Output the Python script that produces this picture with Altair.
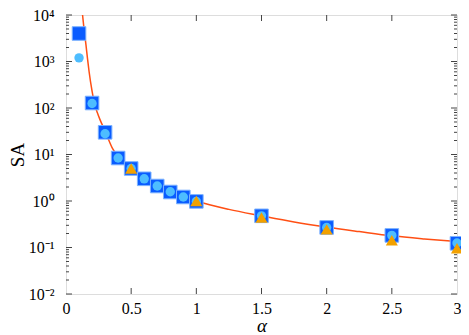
import altair as alt
import pandas as pd

# ---- data ----
sq_alpha = [0.1, 0.2, 0.3, 0.4, 0.5, 0.6, 0.7, 0.8, 0.9, 1.0, 1.5, 2.0, 2.5, 3.0]
sq_sa = [4000, 128, 30, 8.4, 5.0, 3.0, 2.1, 1.56, 1.22, 0.98, 0.48, 0.27, 0.182, 0.123]

ci_alpha = [0.1, 0.2, 0.3, 0.4, 0.5, 0.6, 0.7, 0.8, 0.9, 1.0, 1.5, 2.0, 2.5, 3.0]
ci_sa = [1200, 125, 28, 8.4, 5.0, 3.0, 2.1, 1.58, 1.22, 0.98, 0.48, 0.27, 0.182, 0.125]

tr_alpha = [0.5, 1.0, 1.5, 2.0, 2.5, 3.0]
tr_sa = [5.0, 1.0, 0.44, 0.245, 0.143, 0.096]

line_alpha = [0.127, 0.14, 0.153, 0.165, 0.177, 0.2, 0.22, 0.24, 0.26, 0.3, 0.36, 0.4,
              0.5, 0.6, 0.7, 0.8, 0.9, 1.0, 1.25, 1.5, 1.75, 2.0, 2.25, 2.5, 2.75, 3.0]
line_sa = [10000, 4500, 2300, 1150, 610, 230, 120, 80, 57, 32, 13, 9.0,
           5.0, 3.1, 2.15, 1.6, 1.25, 1.0, 0.66, 0.48, 0.355, 0.275, 0.22, 0.178, 0.153, 0.135]

x_ticks = [0, 0.5, 1, 1.5, 2, 2.5, 3]
x_inner_ticks = [0.5, 1, 1.5, 2, 2.5]
y_major = [1e-2, 1e-1, 1e0, 1e1, 1e2, 1e3, 1e4]
y_minor = [m * 10.0 ** k for k in range(-2, 4) for m in range(2, 10)]

W, H = 391, 279
FONT = "Liberation Serif"
FRAME = "#444444"

xscale = alt.Scale(domain=[0, 3], nice=False, zero=False)
yscale = alt.Scale(type="log", domain=[1e-2, 1e4], nice=False)

sq_df = pd.DataFrame({"alpha": sq_alpha, "SA": sq_sa})
ci_df = pd.DataFrame({"alpha": ci_alpha, "SA": ci_sa})
tr_df = pd.DataFrame({"alpha": tr_alpha, "SA": tr_sa})
ln_df = pd.DataFrame({"alpha": line_alpha, "SA": line_sa})

sup_expr = ("datum.value == 10000 ? '10⁴' : datum.value == 1000 ? '10³' : "
            "datum.value == 100 ? '10²' : datum.value == 10 ? '10¹' : "
            "datum.value == 1 ? '10⁰' : datum.value == 0.1 ? '10⁻¹' : '10⁻²'")

x_enc = alt.X("alpha:Q", scale=xscale,
              axis=alt.Axis(values=x_ticks, ticks=False, domain=False, grid=False,
                            title="α", titleFont=FONT, titleFontStyle="italic",
                            titleFontWeight="normal", titleFontSize=19, titleColor="black",
                            titleX=W / 2, titleY=37, titleBaseline="alphabetic",
                            titleAlign="center",
                            labelFont=FONT, labelFontSize=16,
                            labelColor="black", labelPadding=6, labelFlush=False,
                            format="~g"))
y_enc = alt.Y("SA:Q", scale=yscale,
              axis=alt.Axis(values=y_major, ticks=False, domain=False, grid=False,
                            title="SA", titleFont=FONT, titleFontWeight="normal",
                            titleFontSize=19, titleColor="black",
                            titleX=-58, titleY=H / 2, titleAngle=-90,
                            titleBaseline="top", titleAlign="center",
                            labelFont=FONT, labelFontSize=16, labelColor="black",
                            labelPadding=12, labelExpr=sup_expr))

line = alt.Chart(ln_df).mark_line(color="#FF4F14", strokeWidth=1.5, clip=True,
                                  interpolate="monotone").encode(x=x_enc, y=y_enc)

squares = alt.Chart(sq_df).mark_point(shape="square", filled=True, size=185,
                                      color="#0A5CFF", stroke="#7DB3FF",
                                      strokeWidth=1, opacity=1).encode(
    x=alt.X("alpha:Q", scale=xscale), y=alt.Y("SA:Q", scale=yscale))

circles = alt.Chart(ci_df).mark_point(shape="circle", filled=True, size=88,
                                      color="#4DBDFF", opacity=1).encode(
    x=alt.X("alpha:Q", scale=xscale), y=alt.Y("SA:Q", scale=yscale))

triangles = alt.Chart(tr_df).mark_point(shape="triangle-up", filled=True, size=145,
                                        color="#F2A100", opacity=1).encode(
    x=alt.X("alpha:Q", scale=xscale), y=alt.Y("SA:Q", scale=yscale))

# inward tick marks drawn at the tick values
ym_df = pd.DataFrame({"v": y_major})
yn_df = pd.DataFrame({"v": y_minor})
xt_df = pd.DataFrame({"v": x_inner_ticks})

def ytick(df, x0, x1):
    return alt.Chart(df).mark_rule(color=FRAME, strokeWidth=1).encode(
        y=alt.Y("v:Q", scale=yscale), x=alt.value(x0), x2=alt.value(x1))

def xtick(df, y0, y1):
    return alt.Chart(df).mark_rule(color=FRAME, strokeWidth=1).encode(
        x=alt.X("v:Q", scale=xscale), y=alt.value(y0), y2=alt.value(y1))

ticks = [
    ytick(ym_df, 0, 6), ytick(ym_df, W - 6, W),
    ytick(yn_df, 0, 3), ytick(yn_df, W - 3, W),
    xtick(xt_df, H - 6, H), xtick(xt_df, 0, 6),
]

chart = alt.layer(line, *ticks, squares, circles, triangles).properties(
    width=W, height=H,
    autosize=alt.AutoSizeParams(type="none"),
    padding={"left": 58, "top": 7, "right": 4, "bottom": 40},
).configure_view(stroke=FRAME, strokeWidth=1.2).configure(background="white")

chart.save("out.html", embed_options={"renderer": "svg", "actions": False})
